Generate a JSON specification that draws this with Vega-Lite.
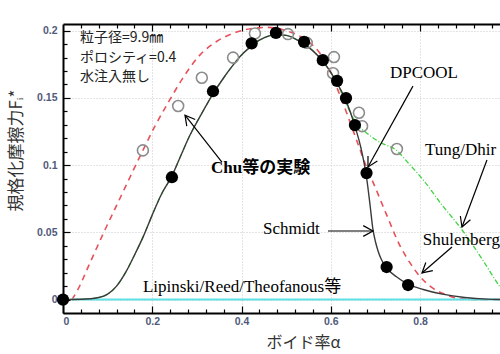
{
  "$schema": "https://vega.github.io/schema/vega-lite/v6.json",
  "width": 437,
  "height": 289,
  "autosize": "none",
  "padding": {"left": 63, "top": 24, "right": 0, "bottom": 41},
  "background": "white",
  "config": {
    "view": {"stroke": null},
    "axis": {
      "labelFont": "Liberation Sans", "labelFontSize": 10.5, "labelFontWeight": "bold", "labelColor": "#505a7a",
      "tickColor": "black", "tickWidth": 1.2, "domainColor": "black", "domainWidth": 2,
      "gridColor": "#c8c8c8", "gridDash": [1, 2], "gridWidth": 1,
      "titleFont": "Noto Sans CJK JP", "titleFontWeight": "normal", "titleColor": "#333333", "titleFontSize": 16
    }
  },
  "resolve": {"axis": {"x": "independent", "y": "independent"}},
  "datasets": {
    "schmidt": [
      {"x": 0, "y": 0}, {"x": 0.04, "y": 0.0002}, {"x": 0.08, "y": 0.0015}, {"x": 0.1, "y": 0.004},
      {"x": 0.12, "y": 0.01}, {"x": 0.14, "y": 0.02}, {"x": 0.16, "y": 0.033}, {"x": 0.18, "y": 0.047},
      {"x": 0.2, "y": 0.063}, {"x": 0.22, "y": 0.078}, {"x": 0.244, "y": 0.092}, {"x": 0.26, "y": 0.104},
      {"x": 0.284, "y": 0.122}, {"x": 0.31, "y": 0.138}, {"x": 0.336, "y": 0.153}, {"x": 0.36, "y": 0.165},
      {"x": 0.38, "y": 0.174}, {"x": 0.4, "y": 0.182}, {"x": 0.42, "y": 0.188}, {"x": 0.44, "y": 0.193},
      {"x": 0.46, "y": 0.196}, {"x": 0.48, "y": 0.197}, {"x": 0.5, "y": 0.1965}, {"x": 0.52, "y": 0.194},
      {"x": 0.54, "y": 0.19}, {"x": 0.56, "y": 0.185}, {"x": 0.58, "y": 0.178}, {"x": 0.6, "y": 0.169},
      {"x": 0.614, "y": 0.161}, {"x": 0.634, "y": 0.148}, {"x": 0.654, "y": 0.129}, {"x": 0.668, "y": 0.112},
      {"x": 0.68, "y": 0.091}, {"x": 0.688, "y": 0.07}, {"x": 0.694, "y": 0.053}, {"x": 0.7, "y": 0.043},
      {"x": 0.706, "y": 0.036}, {"x": 0.713, "y": 0.03}, {"x": 0.725, "y": 0.0235}, {"x": 0.747, "y": 0.017},
      {"x": 0.773, "y": 0.0115}, {"x": 0.807, "y": 0.0075}, {"x": 0.85, "y": 0.004}, {"x": 0.9, "y": 0.0015},
      {"x": 0.95, "y": 0.0003}, {"x": 1.0, "y": 0}
    ],
    "tung": [
      {"x": 0, "y": 0}, {"x": 0.04, "y": 0.0002}, {"x": 0.08, "y": 0.0015}, {"x": 0.1, "y": 0.004},
      {"x": 0.12, "y": 0.01}, {"x": 0.14, "y": 0.02}, {"x": 0.16, "y": 0.033}, {"x": 0.18, "y": 0.047},
      {"x": 0.2, "y": 0.063}, {"x": 0.22, "y": 0.078}, {"x": 0.244, "y": 0.092}, {"x": 0.26, "y": 0.104},
      {"x": 0.284, "y": 0.122}, {"x": 0.31, "y": 0.138}, {"x": 0.336, "y": 0.153}, {"x": 0.36, "y": 0.165},
      {"x": 0.38, "y": 0.174}, {"x": 0.4, "y": 0.182}, {"x": 0.42, "y": 0.188}, {"x": 0.44, "y": 0.193},
      {"x": 0.46, "y": 0.196}, {"x": 0.48, "y": 0.197}, {"x": 0.5, "y": 0.1965}, {"x": 0.52, "y": 0.194},
      {"x": 0.54, "y": 0.19}, {"x": 0.56, "y": 0.185}, {"x": 0.58, "y": 0.178}, {"x": 0.6, "y": 0.169},
      {"x": 0.614, "y": 0.161}, {"x": 0.634, "y": 0.146}, {"x": 0.647, "y": 0.137}, {"x": 0.66, "y": 0.13},
      {"x": 0.68, "y": 0.124}, {"x": 0.71, "y": 0.117}, {"x": 0.747, "y": 0.111}, {"x": 0.775, "y": 0.101},
      {"x": 0.807, "y": 0.089}, {"x": 0.85, "y": 0.07}, {"x": 0.889, "y": 0.054}, {"x": 0.915, "y": 0.042},
      {"x": 0.941, "y": 0.029}, {"x": 0.979, "y": 0.0094}, {"x": 1.0, "y": 0}
    ],
    "shulenberg": [
      {"x": 0.02, "y": 0}, {"x": 0.031, "y": 0.006}, {"x": 0.06, "y": 0.027}, {"x": 0.09, "y": 0.049},
      {"x": 0.12, "y": 0.07}, {"x": 0.15, "y": 0.091}, {"x": 0.179, "y": 0.111}, {"x": 0.206, "y": 0.129},
      {"x": 0.233, "y": 0.145}, {"x": 0.267, "y": 0.164}, {"x": 0.307, "y": 0.182}, {"x": 0.344, "y": 0.192},
      {"x": 0.381, "y": 0.198}, {"x": 0.42, "y": 0.2015}, {"x": 0.46, "y": 0.2025}, {"x": 0.5, "y": 0.2},
      {"x": 0.54, "y": 0.194}, {"x": 0.576, "y": 0.183}, {"x": 0.598, "y": 0.17}, {"x": 0.625, "y": 0.148},
      {"x": 0.654, "y": 0.122}, {"x": 0.676, "y": 0.102}, {"x": 0.7, "y": 0.083}, {"x": 0.725, "y": 0.063},
      {"x": 0.755, "y": 0.04}, {"x": 0.78, "y": 0.026}, {"x": 0.8, "y": 0.017}, {"x": 0.826, "y": 0.009},
      {"x": 0.855, "y": 0.004}, {"x": 0.882, "y": 0.001}, {"x": 0.92, "y": 0}, {"x": 1.0, "y": 0}
    ],
    "lipinski": [{"x": 0.02, "y": 0}, {"x": 1.0, "y": 0}],
    "chu": [
      {"x": 0.179, "y": 0.111}, {"x": 0.258, "y": 0.144}, {"x": 0.311, "y": 0.165}, {"x": 0.381, "y": 0.18},
      {"x": 0.43, "y": 0.198}, {"x": 0.504, "y": 0.1975}, {"x": 0.546, "y": 0.191}, {"x": 0.607, "y": 0.1804},
      {"x": 0.605, "y": 0.1684}, {"x": 0.663, "y": 0.139}, {"x": 0.67, "y": 0.129}, {"x": 0.748, "y": 0.112}
    ],
    "dpcool": [
      {"x": 0, "y": 0}, {"x": 0.244, "y": 0.091}, {"x": 0.336, "y": 0.155}, {"x": 0.4226, "y": 0.1906},
      {"x": 0.477, "y": 0.1984}, {"x": 0.54, "y": 0.1917}, {"x": 0.582, "y": 0.1781}, {"x": 0.614, "y": 0.1627},
      {"x": 0.634, "y": 0.1499}, {"x": 0.654, "y": 0.1298}, {"x": 0.68, "y": 0.0941}, {"x": 0.725, "y": 0.0242},
      {"x": 0.773, "y": 0.0108}
    ],
    "arrows": [
      {"label": "Chu", "x": 0.356, "y": 0.1023, "x2": 0.2733, "y2": 0.1372, "angle": 232},
      {"label": "DPCOOL", "x": 0.784, "y": 0.1588, "x2": 0.6832, "y2": 0.0986, "angle": 119},
      {"label": "Tung", "x": 0.9498, "y": 0.1038, "x2": 0.8938, "y2": 0.054, "angle": 110.5},
      {"label": "Schmidt", "x": 0.5936, "y": 0.051, "x2": 0.6944, "y2": 0.051, "angle": 0},
      {"label": "Shulenberg", "x": 0.8714, "y": 0.0391, "x2": 0.8042, "y2": 0.0198, "angle": 139}
    ],
    "info": [
      {"x": 0.038, "y": 0.1945, "text": "粒子径=9.9㎜"},
      {"x": 0.038, "y": 0.18, "text": "ポロシティ=0.4"},
      {"x": 0.038, "y": 0.1653, "text": "水注入無し"}
    ],
    "labels": [
      {"x": 0.7325, "y": 0.1685, "text": "DPCOOL"},
      {"x": 0.811, "y": 0.1112, "text": "Tung/Dhir"},
      {"x": 0.448, "y": 0.0525, "text": "Schmidt"},
      {"x": 0.806, "y": 0.0443, "text": "Shulenberg"},
      {"x": 0.179, "y": 0.0094, "text": "Lipinski/Reed/Theofanous等"}
    ],
    "chulabel": [{"x": 0.3315, "y": 0.0978, "text": "Chu等の実験"}]
  },
  "layer": [
    {
      "data": {"name": "tung"},
      "mark": {"type": "line", "color": "#3fd23f", "strokeWidth": 1.3, "strokeDash": [5, 2, 1, 2], "interpolate": "monotone", "clip": true},
      "encoding": {
        "x": {"field": "x", "type": "quantitative", "scale": {"domain": [0, 0.979], "nice": false, "zero": false},
          "axis": {"orient": "bottom", "values": [0, 0.2, 0.4, 0.6, 0.8], "format": "~g", "ticks": false, "tickSize": 0, "labelPadding": 3, "grid": true,
            "title": "ボイド率α", "titleX": 240, "titleY": 29, "titleBaseline": "middle", "titleAlign": "center"}},
        "y": {"field": "y", "type": "quantitative", "scale": {"domain": [-0.01, 0.205], "nice": false, "zero": false},
          "axis": {"orient": "left", "values": [0, 0.05, 0.1, 0.15, 0.2], "format": "~g", "ticks": false, "tickSize": 0, "labelPadding": 6, "grid": true,
            "title": "規格化摩擦力Fᵢ*", "titleX": -47, "titleY": 126, "titleAngle": 270, "titleBaseline": "middle", "titleAlign": "center", "titleFontSize": 17}}
      }
    },
    {
      "data": {"name": "shulenberg"},
      "mark": {"type": "line", "color": "#e8505a", "strokeWidth": 1.6, "strokeDash": [6, 5], "interpolate": "monotone", "clip": true},
      "encoding": {
        "x": {"field": "x", "type": "quantitative", "scale": {"domain": [0, 0.979], "nice": false, "zero": false},
          "axis": {"orient": "bottom", "values": [0, 0.2, 0.4, 0.6, 0.8], "tickSize": -7, "labels": false, "domain": false, "grid": false, "title": null}},
        "y": {"field": "y", "type": "quantitative", "scale": {"domain": [-0.01, 0.205], "nice": false, "zero": false},
          "axis": {"orient": "left", "values": [0, 0.05, 0.1, 0.15, 0.2], "tickSize": -7, "labels": false, "domain": false, "grid": false, "title": null}}
      }
    },
    {
      "data": {"name": "lipinski"},
      "mark": {"type": "line", "color": "#5fdfe6", "strokeWidth": 2, "clip": true},
      "encoding": {
        "x": {"field": "x", "type": "quantitative", "scale": {"domain": [0, 0.979], "nice": false, "zero": false},
          "axis": {"orient": "bottom", "values": [0.04, 0.08, 0.12, 0.16, 0.24, 0.28, 0.32, 0.36, 0.44, 0.48, 0.52, 0.56, 0.64, 0.68, 0.72, 0.76, 0.84, 0.88, 0.92, 0.96], "tickSize": -4, "labels": false, "domain": false, "grid": false, "title": null}},
        "y": {"field": "y", "type": "quantitative", "scale": {"domain": [-0.01, 0.205], "nice": false, "zero": false},
          "axis": {"orient": "left", "values": [0.01, 0.02, 0.03, 0.04, 0.06, 0.07, 0.08, 0.09, 0.11, 0.12, 0.13, 0.14, 0.16, 0.17, 0.18, 0.19], "tickSize": -4, "labels": false, "domain": false, "grid": false, "title": null}}
      }
    },
    {
      "data": {"name": "schmidt"},
      "mark": {"type": "line", "color": "#3a3a3a", "strokeWidth": 1.4, "interpolate": "monotone", "clip": true},
      "encoding": {
        "x": {"field": "x", "type": "quantitative", "scale": {"domain": [0, 0.979], "nice": false, "zero": false},
          "axis": {"orient": "top", "values": [0.04, 0.08, 0.12, 0.16, 0.24, 0.28, 0.32, 0.36, 0.44, 0.48, 0.52, 0.56, 0.64, 0.68, 0.72, 0.76, 0.84, 0.88, 0.92, 0.96], "tickSize": -4, "labels": false, "domain": true, "grid": false, "title": null}},
        "y": {"field": "y", "type": "quantitative", "scale": {"domain": [-0.01, 0.205], "nice": false, "zero": false}, "axis": null}
      }
    },
    {
      "data": {"name": "chu"},
      "mark": {"type": "point", "shape": "circle", "filled": false, "stroke": "#8c8c8c", "strokeWidth": 1.6, "size": 120, "opacity": 1},
      "encoding": {
        "x": {"field": "x", "type": "quantitative", "scale": {"domain": [0, 0.979], "nice": false, "zero": false},
          "axis": {"orient": "top", "values": [0.2, 0.4, 0.6, 0.8], "tickSize": -7, "labels": false, "domain": false, "grid": false, "title": null}},
        "y": {"field": "y", "type": "quantitative", "scale": {"domain": [-0.01, 0.205], "nice": false, "zero": false}, "axis": null}
      }
    },
    {
      "data": {"name": "dpcool"},
      "mark": {"type": "point", "shape": "circle", "filled": true, "color": "black", "size": 150, "opacity": 1},
      "encoding": {
        "x": {"field": "x", "type": "quantitative", "scale": {"domain": [0, 0.979], "nice": false, "zero": false}, "axis": null},
        "y": {"field": "y", "type": "quantitative", "scale": {"domain": [-0.01, 0.205], "nice": false, "zero": false}, "axis": null}
      }
    },
    {
      "data": {"name": "arrows"},
      "mark": {"type": "rule", "color": "black", "strokeWidth": 1.2},
      "encoding": {
        "x": {"field": "x", "type": "quantitative", "scale": {"domain": [0, 0.979], "nice": false, "zero": false}, "axis": null},
        "y": {"field": "y", "type": "quantitative", "scale": {"domain": [-0.01, 0.205], "nice": false, "zero": false}, "axis": null},
        "x2": {"field": "x2"},
        "y2": {"field": "y2"}
      }
    },
    {
      "data": {"name": "arrows"},
      "mark": {"type": "point", "shape": "M-1,-0.55L0,0L-1,0.55", "filled": false, "stroke": "black", "strokeWidth": 1.2, "size": 380, "opacity": 1},
      "encoding": {
        "x": {"field": "x2", "type": "quantitative", "scale": {"domain": [0, 0.979], "nice": false, "zero": false}, "axis": null},
        "y": {"field": "y2", "type": "quantitative", "scale": {"domain": [-0.01, 0.205], "nice": false, "zero": false}, "axis": null},
        "angle": {"field": "angle", "type": "quantitative", "scale": null}
      }
    },
    {
      "data": {"name": "info"},
      "mark": {"type": "text", "align": "left", "baseline": "middle", "font": "Noto Sans CJK JP", "fontSize": 14, "color": "#222222"},
      "encoding": {
        "x": {"field": "x", "type": "quantitative", "scale": {"domain": [0, 0.979], "nice": false, "zero": false}, "axis": null},
        "y": {"field": "y", "type": "quantitative", "scale": {"domain": [-0.01, 0.205], "nice": false, "zero": false}, "axis": null},
        "text": {"field": "text"}
      }
    },
    {
      "data": {"name": "labels"},
      "mark": {"type": "text", "align": "left", "baseline": "middle", "font": "Liberation Serif, Noto Sans CJK JP", "fontSize": 17, "color": "black"},
      "encoding": {
        "x": {"field": "x", "type": "quantitative", "scale": {"domain": [0, 0.979], "nice": false, "zero": false}, "axis": null},
        "y": {"field": "y", "type": "quantitative", "scale": {"domain": [-0.01, 0.205], "nice": false, "zero": false}, "axis": null},
        "text": {"field": "text"}
      }
    },
    {
      "data": {"name": "chulabel"},
      "mark": {"type": "text", "align": "left", "baseline": "middle", "font": "Liberation Serif, Noto Sans CJK JP", "fontSize": 17, "fontWeight": "bold", "color": "black"},
      "encoding": {
        "x": {"field": "x", "type": "quantitative", "scale": {"domain": [0, 0.979], "nice": false, "zero": false}, "axis": null},
        "y": {"field": "y", "type": "quantitative", "scale": {"domain": [-0.01, 0.205], "nice": false, "zero": false}, "axis": null},
        "text": {"field": "text"}
      }
    }
  ]
}
